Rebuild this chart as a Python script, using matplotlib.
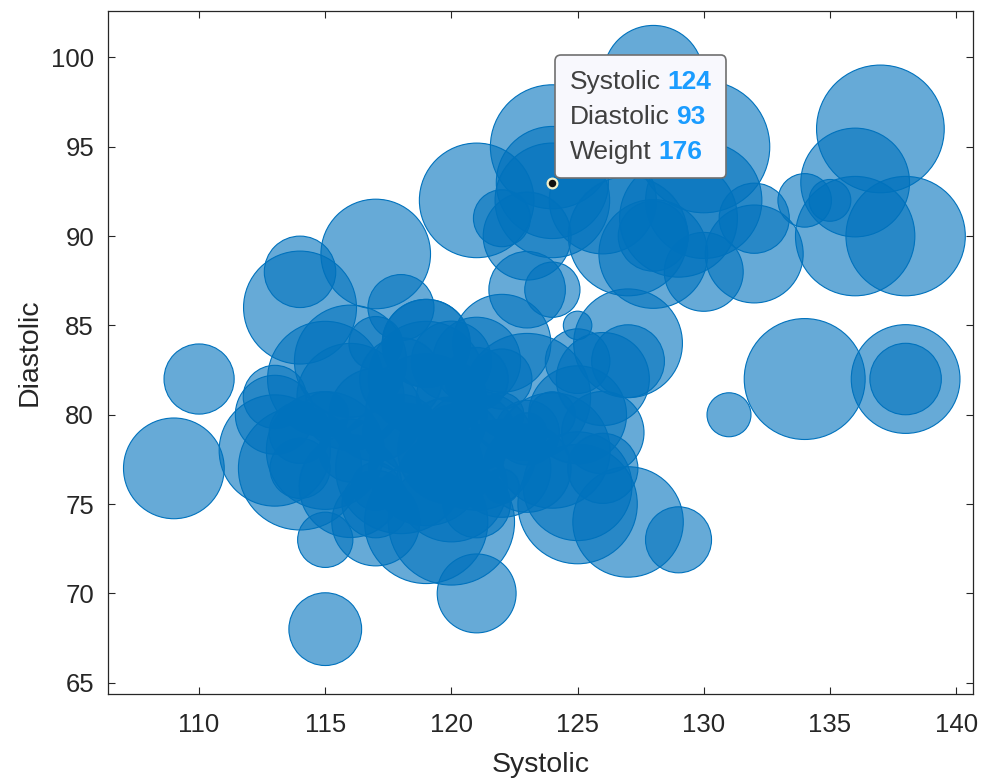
import numpy as np
import matplotlib.pyplot as plt
from matplotlib.offsetbox import TextArea, HPacker, VPacker, AnnotationBbox

# blood pressure readings and body weight per patient
systolic = [124, 109, 125, 117, 122, 121, 130, 115, 115, 118,
            114, 115, 127, 130, 114, 130, 124, 123, 119, 125,
            121, 123, 120, 117, 110, 114, 114, 117, 121, 115,
            129, 131, 134, 138, 138, 137, 136, 138, 136, 134,
            135, 132, 132, 128, 123, 125, 127, 127, 114, 113,
            113, 125, 128, 128, 124, 126, 129, 123, 122, 127,
            120, 116, 116, 121, 122, 119, 118, 120, 121, 122,
            123, 124, 124, 120, 119, 116, 117, 118, 119, 122,
            120, 123, 113, 117, 121, 120, 117, 119, 126, 125,
            126, 116, 115, 119, 121, 124, 118, 120, 122, 126]
diastolic = [93, 77, 83, 75, 80, 70, 88, 82, 78, 86,
             77, 68, 74, 95, 79, 92, 95, 79, 77, 76,
             75, 79, 74, 76, 82, 88, 86, 89, 92, 73,
             73, 80, 82, 82, 82, 96, 93, 90, 90, 92,
             92, 91, 89, 99, 87, 85, 84, 83, 77, 80,
             81, 75, 89, 90, 92, 92, 91, 90, 91, 90,
             83, 81, 83, 83, 84, 80, 79, 79, 78, 77,
             81, 78, 80, 76, 74, 78, 80, 77, 82, 82,
             81, 77, 78, 84, 79, 77, 74, 84, 79, 80,
             77, 76, 80, 84, 82, 87, 82, 78, 76, 82]
weight = [176, 163, 131, 133, 119, 142, 142, 180, 183, 132,
          128, 137, 174, 202, 129, 181, 191, 131, 179, 172,
          133, 117, 194, 121, 135, 136, 177, 173, 179, 125,
          132, 119, 187, 172, 136, 196, 172, 185, 185, 124,
          118, 135, 160, 162, 140, 113, 172, 137, 190, 142,
          130, 185, 172, 135, 179, 170, 183, 150, 126, 185,
          143, 170, 176, 150, 160, 188, 140, 125, 185, 160,
          195, 180, 120, 175, 190, 130, 155, 200, 180, 128,
          135, 150, 175, 124, 140, 115, 150, 150, 145, 160,
          135, 165, 120, 150, 130, 125, 145, 170, 115, 155]

# bubble diameters in pixels, area scaled linearly with weight
weight_lim = (111, 202)
diam_lim = (21, 132)
dpi = 100

w = np.array(weight, dtype=float)
frac = (w - weight_lim[0]) / (weight_lim[1] - weight_lim[0])
diam_px = np.sqrt(diam_lim[0] ** 2 + frac * (diam_lim[1] ** 2 - diam_lim[0] ** 2))
sizes = (diam_px * 72 / dpi) ** 2

blue = (0, 0.447, 0.741)
dark = '#262626'

plt.rcParams['font.family'] = ['Liberation Sans', 'DejaVu Sans']

fig = plt.figure(figsize=(9.82, 7.81), dpi=dpi)
ax = fig.add_axes([108 / 982, 87 / 781, 865 / 982, 683 / 781])

ax.scatter(systolic, diastolic, s=sizes,
           facecolors=[blue + (0.6,)], edgecolors=[blue + (1.0,)],
           linewidths=0.8)

ax.set_xlim(106.39, 140.67)
ax.set_ylim(64.37, 102.6)
ax.set_xticks(np.arange(110, 141, 5))
ax.set_yticks(np.arange(65, 101, 5))

ax.tick_params(direction='in', length=5, width=0.8, colors=dark,
               labelsize=18.5, top=True, right=True)
ax.tick_params(axis='x', pad=13.5)
ax.tick_params(axis='y', pad=10)
for sp in ax.spines.values():
    sp.set_color(dark)
    sp.set_linewidth(0.9)

ax.set_xlabel('Systolic', fontsize=20.5, color=dark, labelpad=11)
ax.set_ylabel('Diastolic', fontsize=20.5, color=dark, labelpad=6)

# data tip on the first patient
tip_x, tip_y, tip_w = systolic[0], diastolic[0], weight[0]
ax.plot(tip_x, tip_y, 'o', ms=7, mfc='#111111', mec='#f2f0c8', mew=1.6, zorder=5)

label_color = '#404040'
value_color = '#1a9cff'
rows = []
for name, val in [('Systolic', tip_x), ('Diastolic', tip_y), ('Weight', tip_w)]:
    rows.append(HPacker(children=[
        TextArea(name, textprops=dict(color=label_color, fontsize=19)),
        TextArea(str(val), textprops=dict(color=value_color, fontsize=19,
                                          fontweight='bold')),
    ], align='baseline', pad=0, sep=5))
tip_box = VPacker(children=rows, align='left', pad=0, sep=8)
tip_pad = 10.5  # points between text block and frame
ab = AnnotationBbox(tip_box, (tip_x, tip_y), xycoords='data',
                    xybox=(2 + tip_pad, 3 + tip_pad), boxcoords='offset points',
                    box_alignment=(0, 0), fontsize=10,
                    bboxprops=dict(boxstyle=f'round,pad={tip_pad / 10},rounding_size=0.4',
                                   fc='#f8f8fd', ec='#707070', lw=1.2),
                    zorder=6)
ax.add_artist(ab)

fig.savefig('out.png', dpi=dpi)
